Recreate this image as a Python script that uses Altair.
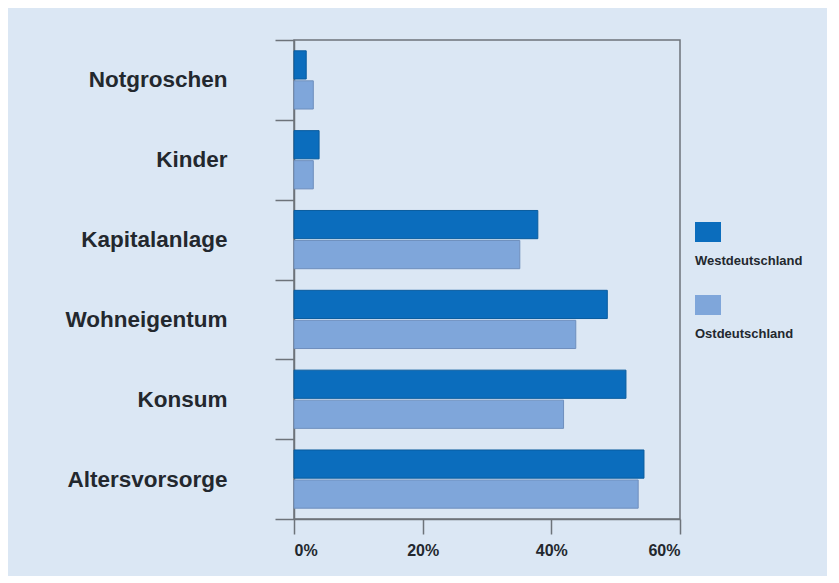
import altair as alt
import pandas as pd

categories = ["Notgroschen", "Kinder", "Kapitalanlage", "Wohneigentum", "Konsum", "Altersvorsorge"]
west = [1.9, 3.9, 37.9, 48.7, 51.6, 54.4]
east = [3.0, 3.0, 35.1, 43.8, 41.9, 53.5]
series = ["Westdeutschland", "Ostdeutschland"]
colors = ["#0b6dbd", "#7fa6da"]
edge_colors = ["#0a5c9e", "#6f8fbd"]
x_ticks = [0, 20, 40, 60]

BG = "#dbe7f4"
AXIS = "#6d737a"
TEXT = "#23282e"

rows = []
for c, w, e in zip(categories, west, east):
    rows.append({"Kategorie": c, "Region": series[0], "Anteil": w})
    rows.append({"Kategorie": c, "Region": series[1], "Anteil": e})
df = pd.DataFrame(rows)

color_scale = alt.Scale(domain=series, range=colors)

main = alt.Chart(df).mark_bar(strokeWidth=1).encode(
    x=alt.X(
        "Anteil:Q",
        scale=alt.Scale(domain=[0, 60], nice=False),
        axis=alt.Axis(
            values=x_ticks, labelExpr="datum.value + '%'", title=None, grid=False,
            tickSize=15, tickWidth=1.5, tickColor=AXIS, domainColor=AXIS, domainWidth=1.5,
            labelPadding=8, labelFontSize=16, labelFontWeight="bold", labelColor=TEXT,
        ),
    ),
    y=alt.Y(
        "Kategorie:N", sort=categories,
        scale=alt.Scale(paddingInner=0, paddingOuter=0),
        axis=alt.Axis(
            title=None, tickBand="extent", tickSize=19, tickWidth=1.5,
            tickColor=AXIS, domainColor=AXIS, domainWidth=1.5,
            labelPadding=48, labelFontSize=22.5, labelFontWeight="bold", labelColor=TEXT,
        ),
    ),
    yOffset=alt.YOffset("Region:N", sort=series,
                        scale=alt.Scale(paddingInner=0.06, paddingOuter=0.36)),
    color=alt.Color("Region:N", scale=color_scale, legend=None),
    stroke=alt.Stroke("Region:N", scale=alt.Scale(domain=series, range=edge_colors), legend=None),
).properties(
    width=386, height=479,
    view=alt.ViewBackground(stroke=AXIS, strokeWidth=1.5),
)

leg_df = pd.DataFrame({"Region": series})
leg_y = alt.Y("Region:N", sort=series,
              scale=alt.Scale(type="point", range=[192, 265], padding=0), axis=None)

squares = alt.Chart(leg_df).mark_point(
    shape="M-1.3,-1H1.3V1H-1.3Z", filled=True, size=400, opacity=1
).encode(
    y=leg_y,
    color=alt.Color("Region:N", scale=color_scale, legend=None),
)
labels = alt.Chart(leg_df).mark_text(
    align="left", baseline="middle", dx=-13, dy=29,
    fontSize=13, fontWeight="bold", color=TEXT,
).encode(y=leg_y, text="Region:N")

legend = alt.layer(squares, labels).properties(
    width=26, height=479,
    view=alt.ViewBackground(stroke="transparent"),
)

chart = alt.hconcat(main, legend, spacing=12).configure(
    background=BG,
    font="Liberation Sans",
    padding={"left": 56, "top": 20, "right": 24, "bottom": 17},
)

chart.save("out.html", embed_options={"renderer": "svg", "actions": False})
